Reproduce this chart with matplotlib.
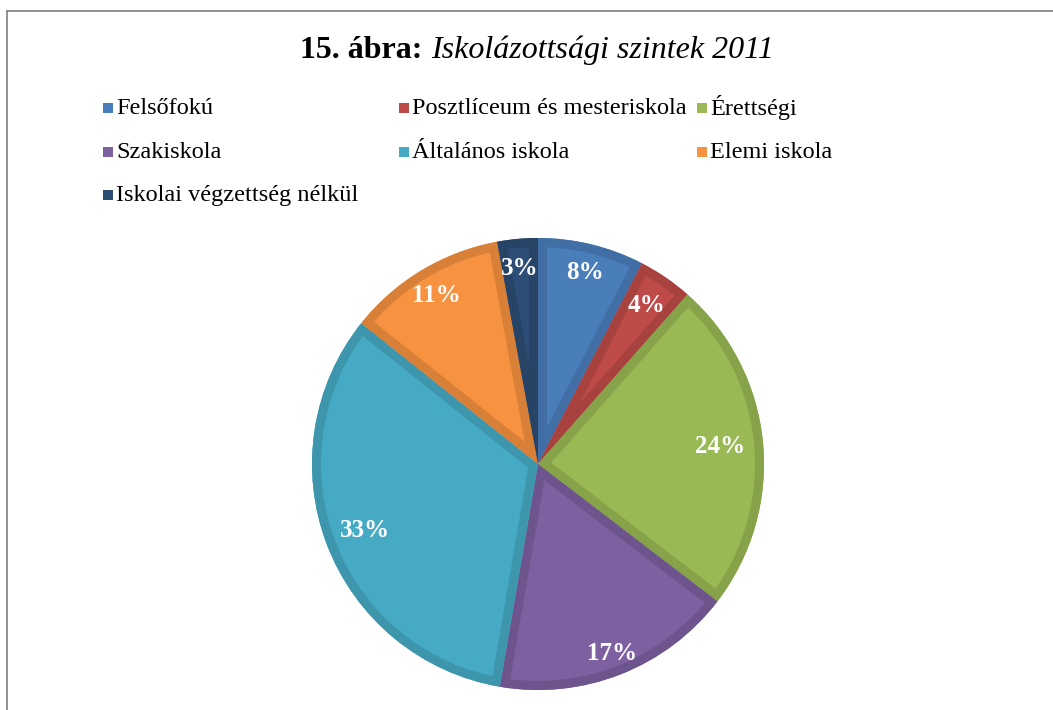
import matplotlib.pyplot as plt
import matplotlib.colors as mcolors
from matplotlib.patches import Rectangle, Wedge
from matplotlib.lines import Line2D
import numpy as np

# --------------------------------------------------
# Daten
# --------------------------------------------------
categories = [
    "Felsőfokú",
    "Posztlíceum és mesteriskola",
    "Érettségi",
    "Szakiskola",
    "Általános iskola",
    "Elemi iskola",
    "Iskolai végzettség nélkül",
]
shares = [7.6, 3.9, 23.9, 17.3, 33.0, 11.4, 2.9]
pct_labels = ["8%", "4%", "24%", "17%", "33%", "11%", "3%"]
colors = ["#4A7EBB", "#BE4B48", "#98B954", "#7D60A0", "#46AAC5", "#F69240", "#2C4D75"]

# label distance from centre (fraction of radius), per wedge
label_r = [0.87, 0.85, 0.81, 0.90, 0.82, 0.87, 0.87]

W, H = 1053, 710
SERIF = ["Liberation Serif", "DejaVu Serif"]


def darker(c, f=0.88):
    r, g, b = mcolors.to_rgb(c)
    return (r * f, g * f, b * f)


fig = plt.figure(figsize=(W / 100, H / 100), dpi=100)

# frame (top + left only, rest is cut off)
fig.add_artist(Line2D([7 / W, 7 / W], [0, 1 - 11 / H], transform=fig.transFigure,
                      color="#7f7f7f", lw=1.2))
fig.add_artist(Line2D([7 / W, 1], [1 - 11 / H, 1 - 11 / H], transform=fig.transFigure,
                      color="#7f7f7f", lw=1.2))

# --------------------------------------------------
# Titel (fett + kursiv)
# --------------------------------------------------
ty = 1 - 50 / H
t1 = fig.text(0, ty, "15. ábra: ", fontsize=23, fontweight="bold",
              family=SERIF, va="center", ha="left")
t2 = fig.text(0, ty, "Iskolázottsági szintek 2011", fontsize=23, style="italic",
              family=SERIF, va="center", ha="left")
renderer = fig.canvas.get_renderer()
w1 = t1.get_window_extent(renderer).width
w2 = t2.get_window_extent(renderer).width
x0 = 537 - (w1 + w2) / 2
t1.set_x(x0 / W)
t2.set_x((x0 + w1) / W)

# --------------------------------------------------
# Legende (3 Spalten, zeilenweise)
# --------------------------------------------------
col_x = [103, 399, 697]
row_y = [108, 152, 195]
for i, (name, col) in enumerate(zip(categories, colors)):
    lx = col_x[i % 3]
    ly = row_y[i // 3]
    fig.add_artist(Rectangle((lx / W, 1 - (ly + 5) / H), 10 / W, 10 / H,
                             transform=fig.transFigure, facecolor=col,
                             edgecolor="none"))
    fig.text((lx + 13) / W, 1 - ly / H, name, fontsize=17.5, family=SERIF,
             va="center", ha="left")

# --------------------------------------------------
# Kreisdiagramm
# --------------------------------------------------
R = 226
cx, cy = 538, 464
pad = 232
ax = fig.add_axes([(cx - pad) / W, (H - cy - pad) / H, 2 * pad / W, 2 * pad / H])
wedges, _ = ax.pie(shares, colors=colors, startangle=90, counterclock=False,
                   radius=1.0, wedgeprops=dict(linewidth=0))
ax.set_xlim(-pad / R, pad / R)
ax.set_ylim(-pad / R, pad / R)
ax.set_aspect("equal")
ax.axis("off")

# darker inner rim on every wedge (stroke clipped to the wedge itself)
for w, col in zip(wedges, colors):
    rim = Wedge(w.center, w.r, w.theta1, w.theta2, facecolor="none",
                edgecolor=darker(col), linewidth=13, joinstyle="miter")
    ax.add_patch(rim)
    rim.set_clip_path(w.get_path(), ax.transData)

for w, lab, r in zip(wedges, pct_labels, label_r):
    mid = np.deg2rad((w.theta1 + w.theta2) / 2)
    ax.text(r * np.cos(mid), r * np.sin(mid), lab, color="white", fontsize=18,
            fontweight="bold", family=SERIF, ha="center", va="center")

fig.savefig("out.png", dpi=100)
